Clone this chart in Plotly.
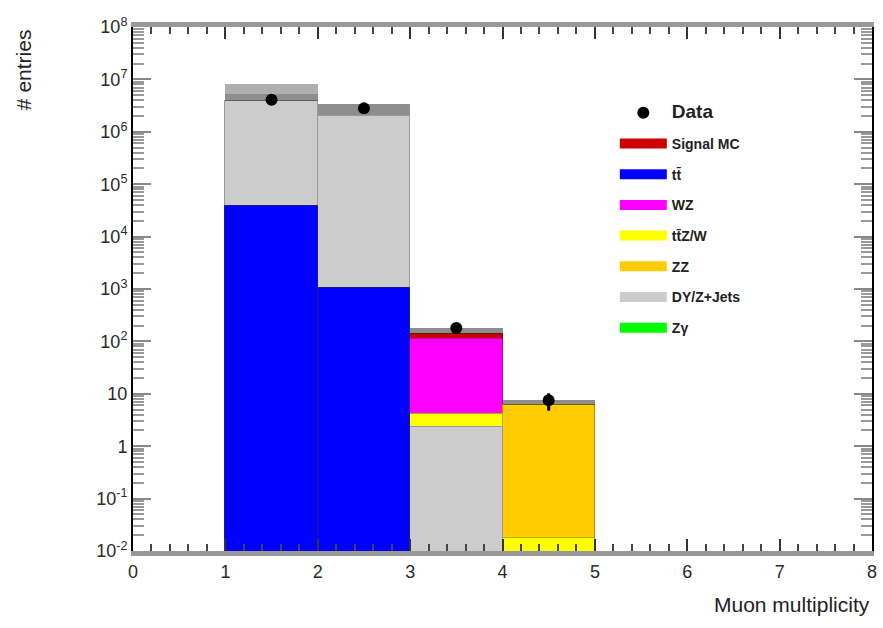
import numpy as np
import plotly.graph_objects as go

# Bin centres (muon multiplicity bins 1-2, 2-3, 3-4, 4-5)
bin_centers = [1.5, 2.5, 3.5, 4.5]

# Background / signal predictions per bin (entries)
ttbar = [3.9e4, 1.05e3, 0.0, 0.0]
dy_zjets = [3.86e6, 2.0e6, 2.3, 0.0]
ttzw = [0.0, 0.0, 1.9, 0.018]
zz = [0.0, 0.0, 0.0, 6.0]
wz = [0.0, 0.0, 105.0, 0.0]
signal_mc = [0.0, 0.0, 32.0, 0.0]
zgamma = [0.0, 0.0, 0.0, 0.0]

# Total-prediction uncertainty band (lower, inner upper, outer upper)
band_lo = [3.9e6, 2.1e6, 141.0, 6.0]
band_mid = [5.3e6, 3.4e6, 180.0, 7.5]
band_hi = [8.1e6, 3.4e6, 180.0, 7.5]

# Observed data
data_vals = [4.1e6, 2.8e6, 180.0, 7.5]

# Axis tick labels
y_tickvals = [1e-2, 1e-1, 1, 10, 1e2, 1e3, 1e4, 1e5, 1e6, 1e7, 1e8]
y_ticktext = ["10<sup>-2</sup>", "10<sup>-1</sup>", "1", "10", "10<sup>2</sup>",
              "10<sup>3</sup>", "10<sup>4</sup>", "10<sup>5</sup>", "10<sup>6</sup>",
              "10<sup>7</sup>", "10<sup>8</sup>"]
x_tickvals = [0, 1, 2, 3, 4, 5, 6, 7, 8]

# Stack order, bottom to top
layers = [
    ("tt̄", ttbar, "#0000ff", "#1a1a80"),
    ("DY/Z+Jets", dy_zjets, "#cccccc", "#9a9a9a"),
    ("tt̄Z/W", ttzw, "#ffff00", "#b0b000"),
    ("ZZ", zz, "#ffcc00", "#c09000"),
    ("WZ", wz, "#ff00ff", "#b000b0"),
    ("Signal MC", signal_mc, "#cc0000", "#800000"),
    ("Zγ", zgamma, "#00ff00", "#00a000"),
]

cum = np.cumsum(np.array([l[1] for l in layers]), axis=0)

fig = go.Figure()

# Draw cumulative totals from the top of the stack down so each layer shows its share
for i in range(len(layers) - 1, -1, -1):
    name, _, fill, edge = layers[i]
    fig.add_trace(go.Bar(
        x=bin_centers, y=cum[i], width=1.0,
        marker=dict(color=fill, line=dict(color=edge, width=1)),
        showlegend=False, name=name, hoverinfo="skip",
    ))

# Uncertainty band on the total prediction
lo = np.array(band_lo)
fig.add_trace(go.Bar(
    x=bin_centers, base=band_mid, y=np.array(band_hi) - np.array(band_mid), width=1.0,
    marker=dict(color="rgba(110,110,110,0.55)", line=dict(width=0)),
    showlegend=False, hoverinfo="skip",
))
fig.add_trace(go.Bar(
    x=bin_centers, base=lo, y=np.array(band_mid) - lo, width=1.0,
    marker=dict(color="rgba(50,50,50,0.55)", line=dict(width=0)),
    showlegend=False, hoverinfo="skip",
))

# Data points with Poisson errors
fig.add_trace(go.Scatter(
    x=bin_centers, y=data_vals, mode="markers",
    marker=dict(color="black", size=12, symbol="circle"),
    error_y=dict(type="data", array=np.sqrt(data_vals), color="black", thickness=3, width=0),
    name="<span style='font-size:19px'><b>Data</b></span>",
    legendgroup="g0", showlegend=True,
))

# Legend entries for the MC samples
legend_order = [
    ("Signal MC", "#cc0000"),
    ("tt̄", "#0000ff"),
    ("WZ", "#ff00ff"),
    ("tt̄Z/W", "#ffff00"),
    ("ZZ", "#ffcc00"),
    ("DY/Z+Jets", "#cccccc"),
    ("Zγ", "#00ff00"),
]
for k, (name, col) in enumerate(legend_order):
    fig.add_trace(go.Scatter(
        x=[None], y=[None], mode="lines", line=dict(color=col, width=10),
        name=f"<b>{name}</b>", legendgroup=f"g{k+1}", showlegend=True,
    ))

axis_font = dict(family="Liberation Sans, Arial, sans-serif", size=18, color="#2a2a2a")

fig.update_layout(
    width=883, height=628,
    margin=dict(l=133, r=6, t=27, b=77),
    paper_bgcolor="white", plot_bgcolor="white",
    barmode="overlay", bargap=0,
    font=dict(family="Liberation Sans, Arial, sans-serif", color="#222"),
    legend=dict(
        x=0.652, y=0.866, xanchor="left", yanchor="top",
        bgcolor="rgba(0,0,0,0)", borderwidth=0,
        font=dict(size=14, color="#222"),
        traceorder="grouped", tracegroupgap=9.5, itemwidth=47,
    ),
    xaxis=dict(
        range=[0, 8], tickvals=x_tickvals, ticktext=[str(v) for v in x_tickvals],
        ticks="inside", ticklen=12, tickwidth=2, tickcolor="#333",
        minor=dict(ticks="inside", ticklen=7, tickwidth=1.5, tickcolor="#444", dtick=0.2),
        showline=True, linecolor="#999", linewidth=5, mirror="ticks",
        showgrid=False, zeroline=False, tickfont=axis_font,
    ),
    yaxis=dict(
        type="log", range=[-2, 8], tickvals=y_tickvals, ticktext=y_ticktext,
        ticks="inside", ticklen=18, tickwidth=2, tickcolor="#888",
        minor=dict(ticks="inside", ticklen=11, tickwidth=2, tickcolor="#999", dtick="D1"),
        showline=True, linecolor="black", linewidth=2, mirror="ticks",
        showgrid=False, zeroline=False, tickfont=axis_font,
    ),
    annotations=[
        dict(text="Muon multiplicity", x=1.0, y=-0.103, xref="paper", yref="paper",
             xanchor="right", yanchor="middle", showarrow=False,
             font=dict(family="Liberation Sans, Arial, sans-serif", size=21, color="#222")),
        dict(text="# entries", x=-0.148, y=1.0, xref="paper", yref="paper",
             xanchor="center", yanchor="top", textangle=-90, showarrow=False,
             font=dict(family="Liberation Sans, Arial, sans-serif", size=21, color="#222")),
    ],
)

fig.write_html("out.html")
